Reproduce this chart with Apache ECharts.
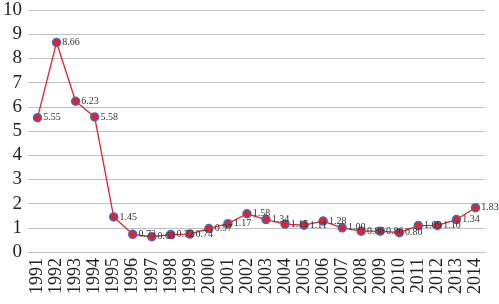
<!DOCTYPE html>
<html>
<head>
<meta charset="utf-8">
<script src="https://cdn.jsdelivr.net/npm/echarts@6/dist/echarts.min.js"></script>
<style>
  html, body { margin: 0; padding: 0; background: #fff; }
  #chart { width: 499px; height: 304px; }
</style>
</head>
<body>
<div id="chart"></div>
<script>
// years along the bottom
const years = ['1991', '1992', '1993', '1994', '1995', '1996', '1997', '1998',
  '1999', '2000', '2001', '2002', '2003', '2004', '2005', '2006', '2007',
  '2008', '2009', '2010', '2011', '2012', '2013', '2014'];

// values
const values = [5.55, 8.66, 6.23, 5.58, 1.45, 0.73, 0.63, 0.72, 0.74, 0.97,
  1.17, 1.58, 1.34, 1.15, 1.11, 1.28, 1.00, 0.86, 0.86, 0.80, 1.09, 1.10,
  1.34, 1.83];

const chart = echarts.init(document.getElementById('chart'));
const serif = 'Liberation Serif, Times New Roman, serif';

chart.setOption({
  animation: false,
  grid: { left: 28, right: 14, top: 10, bottom: 52 },
  xAxis: {
    type: 'category',
    data: years,
    boundaryGap: true,
    axisLine: { show: true, lineStyle: { color: '#bfbfbf', width: 1 } },
    axisTick: { show: false },
    axisLabel: {
      rotate: 90,
      interval: 0,
      margin: 6,
      fontFamily: serif,
      fontSize: 18,
      color: '#222'
    }
  },
  yAxis: {
    type: 'value',
    min: 0,
    max: 10,
    interval: 1,
    axisLine: { show: false },
    axisTick: { show: false },
    axisLabel: { fontFamily: serif, fontSize: 19, color: '#222', margin: 6 },
    splitLine: { lineStyle: { color: '#bfbfbf', width: 1 } }
  },
  series: [{
    type: 'line',
    data: values,
    symbol: 'circle',
    symbolSize: 8,
    itemStyle: { color: '#e8202a', borderColor: '#3a6fc4', borderWidth: 1.5 },
    lineStyle: { color: '#e8202a', width: 1.3 },
    label: {
      show: true,
      position: 'right',
      distance: 1,
      fontFamily: serif,
      fontSize: 10,
      color: '#333',
      formatter: p => p.value.toFixed(2)
    }
  }]
});
</script>
</body>
</html>
